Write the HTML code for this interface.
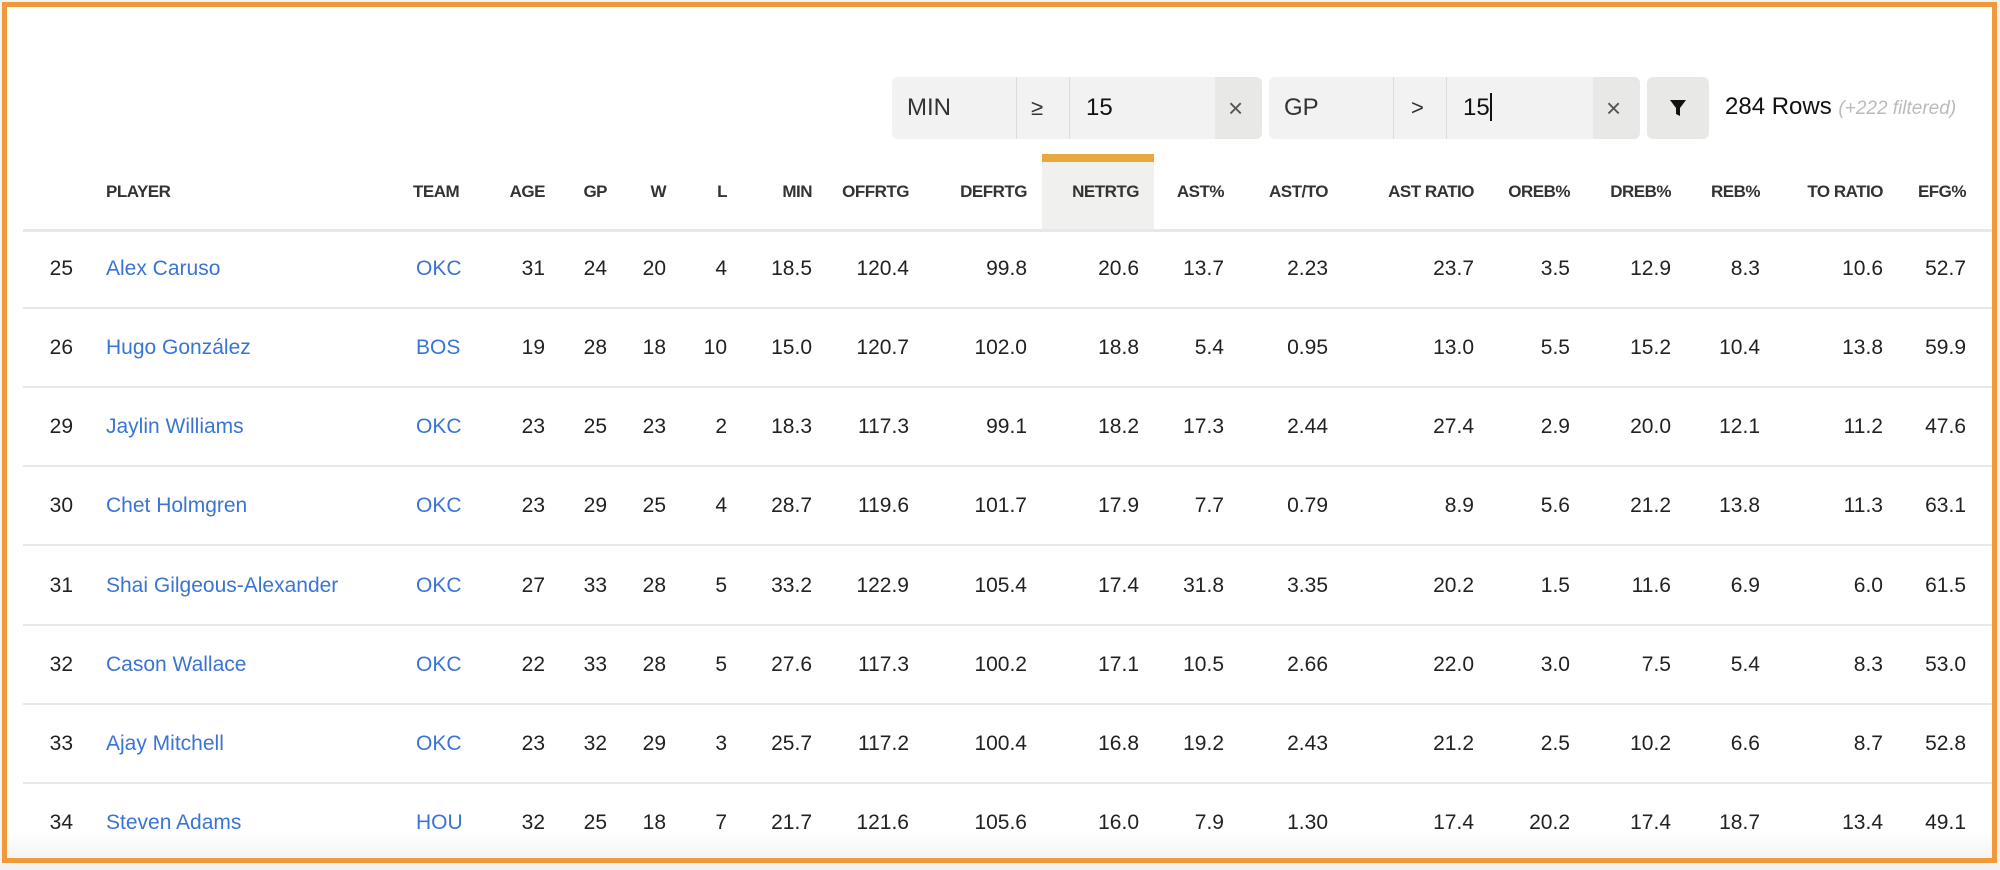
<!DOCTYPE html>
<html><head><meta charset="utf-8"><style>
*{margin:0;padding:0;box-sizing:border-box}
body{width:2000px;height:870px;background:#f2f2f2;font-family:"Liberation Sans",sans-serif;position:relative;overflow:hidden}
#frame{position:absolute;left:2px;top:2px;width:1995px;height:861px;border:5px solid #f0993a;background:#fff;overflow:hidden}
.a{position:absolute;white-space:nowrap}
.box{position:absolute;top:70px;height:62px;background:#f2f2f2;border-radius:6px;overflow:hidden}
.seg{position:absolute;top:0;height:62px;line-height:62px;font-size:24px;color:#333}
.div{position:absolute;top:0;width:1px;height:62px;background:#ddd}
.h{position:absolute;top:175px;font-size:17px;font-weight:bold;color:#333;text-align:right;white-space:nowrap;letter-spacing:-0.5px}
.line{position:absolute;left:16px;right:0;height:2px;background:#e8e8e8}
.c{position:absolute;font-size:21px;color:#222;white-space:nowrap;text-align:right}
.l{color:#3a74d6;text-align:left}
.r{position:absolute;left:0;right:0;height:79px}
.r .c{top:27px}
</style></head><body>
<div id="frame">
<div class="box" style="left:885px;width:370px">
 <div class="seg" style="left:15px">MIN</div>
 <div class="div" style="left:124px"></div>
 <div class="seg" style="left:139px;font-size:22px">≥</div>
 <div class="div" style="left:177px"></div>
 <div class="seg" style="left:194px;color:#111">15</div>
 <div style="position:absolute;left:323px;top:0;width:47px;height:62px;background:#e8e8e7"></div>
 <div class="seg" style="left:336px;font-size:26px;color:#555">×</div>
</div>
<div class="box" style="left:1262px;width:371px">
 <div class="seg" style="left:15px">GP</div>
 <div class="div" style="left:124px"></div>
 <div class="seg" style="left:142px;font-size:22px">&gt;</div>
 <div class="div" style="left:177px"></div>
 <div class="seg" style="left:194px;color:#111">15<span style="display:inline-block;width:2px;height:28px;background:#111;vertical-align:middle;margin-top:-4px"></span></div>
 <div style="position:absolute;left:324px;top:0;width:47px;height:62px;background:#e8e8e7"></div>
 <div class="seg" style="left:337px;font-size:26px;color:#555">×</div>
</div>
<div class="box" style="left:1640px;width:62px;background:#e8e8e7">
 <svg style="position:absolute;left:22px;top:22px" width="18" height="18" viewBox="0 0 18 18"><path d="M1 1H17L11 9V17L7 15V9Z" fill="#111"/></svg>
</div>
<div class="a" style="left:1718px;top:86px;font-size:24px;color:#111">284 Rows <span style="font-size:19px;font-style:italic;color:#bbb">(+222 filtered)</span></div>

<div style="position:absolute;left:1035px;top:147px;width:112px;height:76px;background:#f0f0ef"></div>
<div style="position:absolute;left:1035px;top:147px;width:112px;height:8px;background:#e5a93d"></div>
<div class="h" style="left:99px;text-align:left">PLAYER</div>
<div class="h" style="left:406px;text-align:left">TEAM</div>
<div class="h" style="right:1447px">AGE</div>
<div class="h" style="right:1385px">GP</div>
<div class="h" style="right:1326px">W</div>
<div class="h" style="right:1265px">L</div>
<div class="h" style="right:1180px">MIN</div>
<div class="h" style="right:1083px">OFFRTG</div>
<div class="h" style="right:965px">DEFRTG</div>
<div class="h" style="right:853px">NETRTG</div>
<div class="h" style="right:768px">AST%</div>
<div class="h" style="right:664px">AST/TO</div>
<div class="h" style="right:518px">AST RATIO</div>
<div class="h" style="right:422px">OREB%</div>
<div class="h" style="right:321px">DREB%</div>
<div class="h" style="right:232px">REB%</div>
<div class="h" style="right:109px">TO RATIO</div>
<div class="h" style="right:26px">EFG%</div>
<div class="line" style="top:222px;height:3px"></div>

<div class="r" style="top:223px"><span class="c" style="right:1919px">25</span><span class="c l" style="left:99px">Alex Caruso</span><span class="c l" style="left:409px">OKC</span><span class="c" style="right:1447px">31</span><span class="c" style="right:1385px">24</span><span class="c" style="right:1326px">20</span><span class="c" style="right:1265px">4</span><span class="c" style="right:1180px">18.5</span><span class="c" style="right:1083px">120.4</span><span class="c" style="right:965px">99.8</span><span class="c" style="right:853px">20.6</span><span class="c" style="right:768px">13.7</span><span class="c" style="right:664px">2.23</span><span class="c" style="right:518px">23.7</span><span class="c" style="right:422px">3.5</span><span class="c" style="right:321px">12.9</span><span class="c" style="right:232px">8.3</span><span class="c" style="right:109px">10.6</span><span class="c" style="right:26px">52.7</span><div class="line" style="top:77px"></div></div>
<div class="r" style="top:302px"><span class="c" style="right:1919px">26</span><span class="c l" style="left:99px">Hugo González</span><span class="c l" style="left:409px">BOS</span><span class="c" style="right:1447px">19</span><span class="c" style="right:1385px">28</span><span class="c" style="right:1326px">18</span><span class="c" style="right:1265px">10</span><span class="c" style="right:1180px">15.0</span><span class="c" style="right:1083px">120.7</span><span class="c" style="right:965px">102.0</span><span class="c" style="right:853px">18.8</span><span class="c" style="right:768px">5.4</span><span class="c" style="right:664px">0.95</span><span class="c" style="right:518px">13.0</span><span class="c" style="right:422px">5.5</span><span class="c" style="right:321px">15.2</span><span class="c" style="right:232px">10.4</span><span class="c" style="right:109px">13.8</span><span class="c" style="right:26px">59.9</span><div class="line" style="top:77px"></div></div>
<div class="r" style="top:381px"><span class="c" style="right:1919px">29</span><span class="c l" style="left:99px">Jaylin Williams</span><span class="c l" style="left:409px">OKC</span><span class="c" style="right:1447px">23</span><span class="c" style="right:1385px">25</span><span class="c" style="right:1326px">23</span><span class="c" style="right:1265px">2</span><span class="c" style="right:1180px">18.3</span><span class="c" style="right:1083px">117.3</span><span class="c" style="right:965px">99.1</span><span class="c" style="right:853px">18.2</span><span class="c" style="right:768px">17.3</span><span class="c" style="right:664px">2.44</span><span class="c" style="right:518px">27.4</span><span class="c" style="right:422px">2.9</span><span class="c" style="right:321px">20.0</span><span class="c" style="right:232px">12.1</span><span class="c" style="right:109px">11.2</span><span class="c" style="right:26px">47.6</span><div class="line" style="top:77px"></div></div>
<div class="r" style="top:460px"><span class="c" style="right:1919px">30</span><span class="c l" style="left:99px">Chet Holmgren</span><span class="c l" style="left:409px">OKC</span><span class="c" style="right:1447px">23</span><span class="c" style="right:1385px">29</span><span class="c" style="right:1326px">25</span><span class="c" style="right:1265px">4</span><span class="c" style="right:1180px">28.7</span><span class="c" style="right:1083px">119.6</span><span class="c" style="right:965px">101.7</span><span class="c" style="right:853px">17.9</span><span class="c" style="right:768px">7.7</span><span class="c" style="right:664px">0.79</span><span class="c" style="right:518px">8.9</span><span class="c" style="right:422px">5.6</span><span class="c" style="right:321px">21.2</span><span class="c" style="right:232px">13.8</span><span class="c" style="right:109px">11.3</span><span class="c" style="right:26px">63.1</span><div class="line" style="top:77px"></div></div>
<div class="r" style="top:540px"><span class="c" style="right:1919px">31</span><span class="c l" style="left:99px">Shai Gilgeous-Alexander</span><span class="c l" style="left:409px">OKC</span><span class="c" style="right:1447px">27</span><span class="c" style="right:1385px">33</span><span class="c" style="right:1326px">28</span><span class="c" style="right:1265px">5</span><span class="c" style="right:1180px">33.2</span><span class="c" style="right:1083px">122.9</span><span class="c" style="right:965px">105.4</span><span class="c" style="right:853px">17.4</span><span class="c" style="right:768px">31.8</span><span class="c" style="right:664px">3.35</span><span class="c" style="right:518px">20.2</span><span class="c" style="right:422px">1.5</span><span class="c" style="right:321px">11.6</span><span class="c" style="right:232px">6.9</span><span class="c" style="right:109px">6.0</span><span class="c" style="right:26px">61.5</span><div class="line" style="top:77px"></div></div>
<div class="r" style="top:619px"><span class="c" style="right:1919px">32</span><span class="c l" style="left:99px">Cason Wallace</span><span class="c l" style="left:409px">OKC</span><span class="c" style="right:1447px">22</span><span class="c" style="right:1385px">33</span><span class="c" style="right:1326px">28</span><span class="c" style="right:1265px">5</span><span class="c" style="right:1180px">27.6</span><span class="c" style="right:1083px">117.3</span><span class="c" style="right:965px">100.2</span><span class="c" style="right:853px">17.1</span><span class="c" style="right:768px">10.5</span><span class="c" style="right:664px">2.66</span><span class="c" style="right:518px">22.0</span><span class="c" style="right:422px">3.0</span><span class="c" style="right:321px">7.5</span><span class="c" style="right:232px">5.4</span><span class="c" style="right:109px">8.3</span><span class="c" style="right:26px">53.0</span><div class="line" style="top:77px"></div></div>
<div class="r" style="top:698px"><span class="c" style="right:1919px">33</span><span class="c l" style="left:99px">Ajay Mitchell</span><span class="c l" style="left:409px">OKC</span><span class="c" style="right:1447px">23</span><span class="c" style="right:1385px">32</span><span class="c" style="right:1326px">29</span><span class="c" style="right:1265px">3</span><span class="c" style="right:1180px">25.7</span><span class="c" style="right:1083px">117.2</span><span class="c" style="right:965px">100.4</span><span class="c" style="right:853px">16.8</span><span class="c" style="right:768px">19.2</span><span class="c" style="right:664px">2.43</span><span class="c" style="right:518px">21.2</span><span class="c" style="right:422px">2.5</span><span class="c" style="right:321px">10.2</span><span class="c" style="right:232px">6.6</span><span class="c" style="right:109px">8.7</span><span class="c" style="right:26px">52.8</span><div class="line" style="top:77px"></div></div>
<div class="r" style="top:777px"><span class="c" style="right:1919px">34</span><span class="c l" style="left:99px">Steven Adams</span><span class="c l" style="left:409px">HOU</span><span class="c" style="right:1447px">32</span><span class="c" style="right:1385px">25</span><span class="c" style="right:1326px">18</span><span class="c" style="right:1265px">7</span><span class="c" style="right:1180px">21.7</span><span class="c" style="right:1083px">121.6</span><span class="c" style="right:965px">105.6</span><span class="c" style="right:853px">16.0</span><span class="c" style="right:768px">7.9</span><span class="c" style="right:664px">1.30</span><span class="c" style="right:518px">17.4</span><span class="c" style="right:422px">20.2</span><span class="c" style="right:321px">17.4</span><span class="c" style="right:232px">18.7</span><span class="c" style="right:109px">13.4</span><span class="c" style="right:26px">49.1</span></div>
<div style="position:absolute;left:0;right:0;top:825px;height:30px;background:linear-gradient(rgba(255,255,255,0),rgba(238,238,238,0.7))"></div>
</div>
</body></html>
